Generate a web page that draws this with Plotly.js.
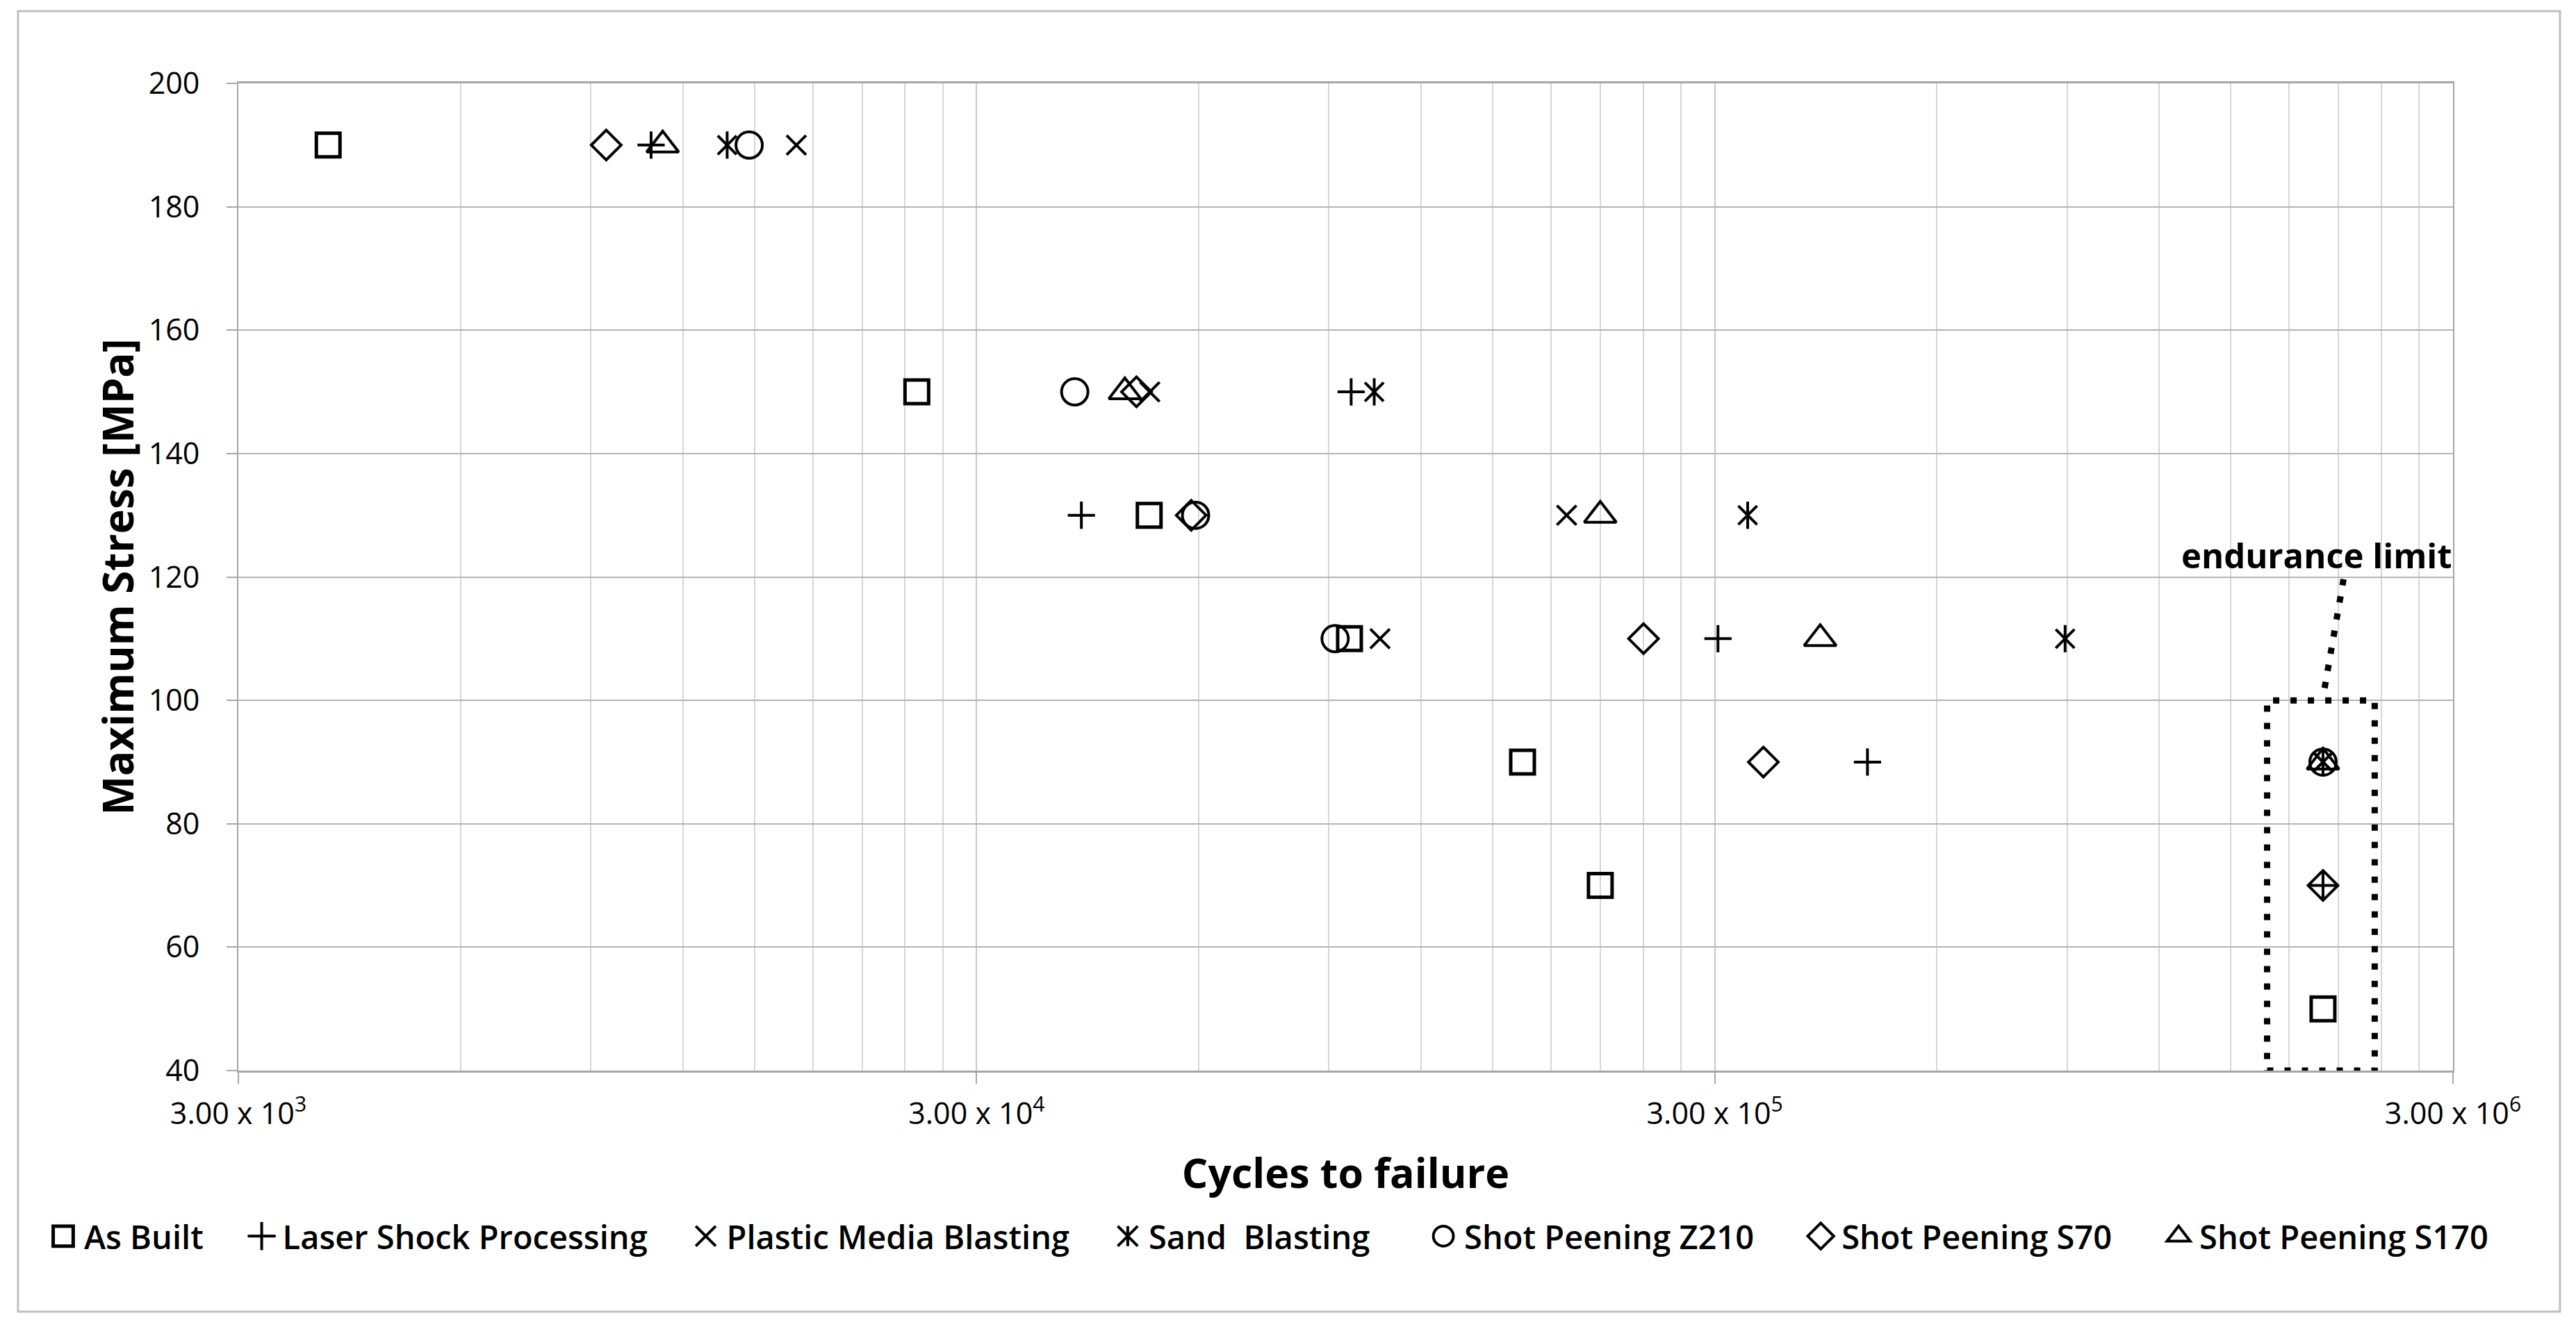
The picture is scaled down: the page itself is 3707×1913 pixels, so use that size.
<!DOCTYPE html>
<html>
<head>
<meta charset="utf-8">
<script src="https://cdn.plot.ly/plotly-3.0.1.min.js"></script>
<style>
  html, body { margin: 0; padding: 0; background: #fff; }
  #chart { width: 3707px; height: 1913px; }
</style>
</head>
<body>
<div id="chart"></div>
<script>
// cycles to failure (N) and maximum stress (MPa) per surface treatment
var asBuiltN  = [3970, 24900, 51400, 96000, 164700, 209900, 2000000];
var asBuiltS  = [190, 150, 130, 110, 90, 70, 50];
var laserN    = [10870, 96500, 41600, 303000, 483000, 2000000];
var laserS    = [190, 150, 130, 110, 90, 70];
var plasticN  = [17100, 51500, 189000, 105600, 2000000];
var plasticS  = [190, 150, 130, 110, 90];
var sandN     = [13780, 103700, 332400, 894700, 2000000];
var sandS     = [190, 150, 130, 110, 90];
var z210N     = [14760, 40750, 59400, 91800, 2000000];
var z210S     = [190, 150, 130, 110, 90];
var s70N      = [9450, 49400, 58600, 240200, 349100, 2000000];
var s70S      = [190, 150, 130, 110, 90, 70];
var s170N     = [11270, 47640, 209900, 416800, 2000000];
var s170S     = [190, 150, 130, 110, 90];

var seriesNames = ['As Built', 'Laser Shock Processing', 'Plastic Media Blasting',
                   'Sand\u00A0 Blasting', 'Shot Peening Z210', 'Shot Peening S70', 'Shot Peening S170'];

var xTickVals = [3000, 30000, 300000, 3000000];
var xTickText = ['3.00 x 10<sup>3</sup>', '3.00 x 10<sup>4</sup>', '3.00 x 10<sup>5</sup>', '3.00 x 10<sup>6</sup>'];

// minor grid at 2..9 times each 3x10^n
var minorVals = [];
xTickVals.slice(0, 3).forEach(function (base) {
    for (var k = 2; k <= 9; k++) minorVals.push(base * k);
});

var FONT = 'Open Sans, Liberation Sans, sans-serif';
// the legend is split in two so it can span the full chart width in one row
var pad1 = '\u00A0\u00A0\u00A0\u00A0';
var pad2 = '\u00A0\u00A0\u00A0\u00A0\u00A0';

function series(name, xs, ys, symbol, size, lw, legend, showlegend) {
    return {
        type: 'scatter',
        mode: 'markers',
        name: name + (legend === 'legend2' ? pad2 : pad1),
        legend: legend,
        x: xs,
        y: ys,
        showlegend: showlegend !== false,
        marker: {
            symbol: symbol,
            size: size,
            color: '#000',
            line: { color: '#000', width: lw }
        }
    };
}

var data = [
    series(seriesNames[0], asBuiltN, asBuiltS, 'square-open', 34, 5, 'legend'),
    series(seriesNames[1], laserN, laserS, 'cross-thin-open', 28, 4, 'legend'),
    series(seriesNames[2], plasticN, plasticS, 'x-thin-open', 28, 4, 'legend'),
    series(seriesNames[3], sandN, sandS, 'x-thin-open', 27, 4, 'legend'),
    series(seriesNames[3], sandN, sandS, 'line-ns-open', 28, 4, 'legend', false),
    series(seriesNames[4], z210N, z210S, 'circle-open', 38, 4, 'legend2'),
    series(seriesNames[5], s70N, s70S, 'diamond-open', 33, 4, 'legend2'),
    series(seriesNames[6], s170N, s170S, 'triangle-up-open', 40, 4, 'legend2')
];

var legendFont = { family: FONT, size: 47, color: '#000', weight: 600 };

var layout = {
    width: 3707,
    height: 1913,
    paper_bgcolor: '#fff',
    plot_bgcolor: '#fff',
    margin: { l: 343, r: 177, t: 120, b: 372, autoexpand: false },
    font: { family: FONT, color: '#000', size: 43 },
    showlegend: true,
    legend: {
        orientation: 'h', x: -0.0885, xanchor: 'left', y: -0.168, yanchor: 'middle',
        itemwidth: 50, font: legendFont, bgcolor: 'rgba(0,0,0,0)'
    },
    legend2: {
        orientation: 'h', x: 0.5347, xanchor: 'left', y: -0.168, yanchor: 'middle',
        itemwidth: 50, font: legendFont, bgcolor: 'rgba(0,0,0,0)'
    },
    xaxis: {
        type: 'log',
        range: [Math.log10(3000), Math.log10(3000000)],
        tickmode: 'array',
        tickvals: xTickVals,
        ticktext: xTickText,
        ticks: 'outside',
        ticklen: 16,
        tickwidth: 2,
        tickcolor: '#a6a6a6',
        ticklabelstandoff: 6,
        tickfont: { family: FONT, size: 43, color: '#000' },
        showgrid: true,
        gridcolor: '#c8c8c8',
        gridwidth: 2,
        minor: { tickmode: 'array', tickvals: minorVals, showgrid: true, gridcolor: '#d6d6d6', gridwidth: 2 },
        showline: true,
        linecolor: '#a6a6a6',
        linewidth: 3,
        mirror: true,
        zeroline: false,
        title: {
            text: 'Cycles to failure',
            font: { family: FONT, size: 59, color: '#000', weight: 'bold' },
            standoff: 40
        }
    },
    yaxis: {
        range: [40, 200],
        dtick: 20,
        tick0: 40,
        ticks: 'outside',
        ticklen: 15,
        tickwidth: 2,
        tickcolor: '#a6a6a6',
        ticklabelstandoff: 30,
        tickfont: { family: FONT, size: 43, color: '#000' },
        showgrid: true,
        gridcolor: '#b4b4b4',
        gridwidth: 2,
        showline: true,
        linecolor: '#a6a6a6',
        linewidth: 2,
        mirror: true,
        zeroline: false,
        title: {
            text: 'Maximum Stress [MPa]',
            font: { family: FONT, size: 60, color: '#000', weight: 'bold' },
            standoff: 2
        }
    },
    shapes: [
        // chart frame
        { type: 'rect', xref: 'paper', yref: 'paper', x0: -0.0995, x1: 1.0483, y0: -0.2442, y1: 1.0732,
          line: { color: '#bfbfbf', width: 3 } },
        // endurance limit box and leader
        { type: 'rect', xref: 'x', yref: 'y', x0: 1680000, x1: 2350000, y0: 40, y1: 100,
          line: { color: '#000', width: 9, dash: '9px,16px' } },
        { type: 'line', xref: 'x', yref: 'y', x0: 2010000, y0: 102, x1: 2135000, y1: 120,
          line: { color: '#000', width: 9, dash: '9px,16px' } }
    ],
    annotations: [
        { text: 'endurance limit', xref: 'x', yref: 'y', x: Math.log10(1960000), y: 123.6,
          showarrow: false, xanchor: 'center', yanchor: 'middle',
          font: { family: FONT, size: 49, color: '#000', weight: 'bold' } }
    ]
};

Plotly.newPlot('chart', data, layout, { displayModeBar: false, staticPlot: true }).then(function (gd) {
    // legend symbols are capped at 16px by plotly; enlarge them to match the chart
    gd.querySelectorAll('g.legendpoints path.scatterpts').forEach(function (p) {
        var item = p.closest('g.traces');
        var tr = item && item.__data__ && item.__data__[0] && item.__data__[0].trace;
        if (tr && tr.marker.symbol === 'x-thin-open' && tr.name.indexOf('Sand') === 0) {
            var d = p.getAttribute('d');
            var r = parseFloat(d.slice(1));
            p.setAttribute('d', d + 'M0,' + r + 'V-' + r);
        }
        p.setAttribute('transform', (p.getAttribute('transform') || '') + ' scale(1.8)');
        p.style.vectorEffect = 'non-scaling-stroke';
    });
});
</script>
</body>
</html>
